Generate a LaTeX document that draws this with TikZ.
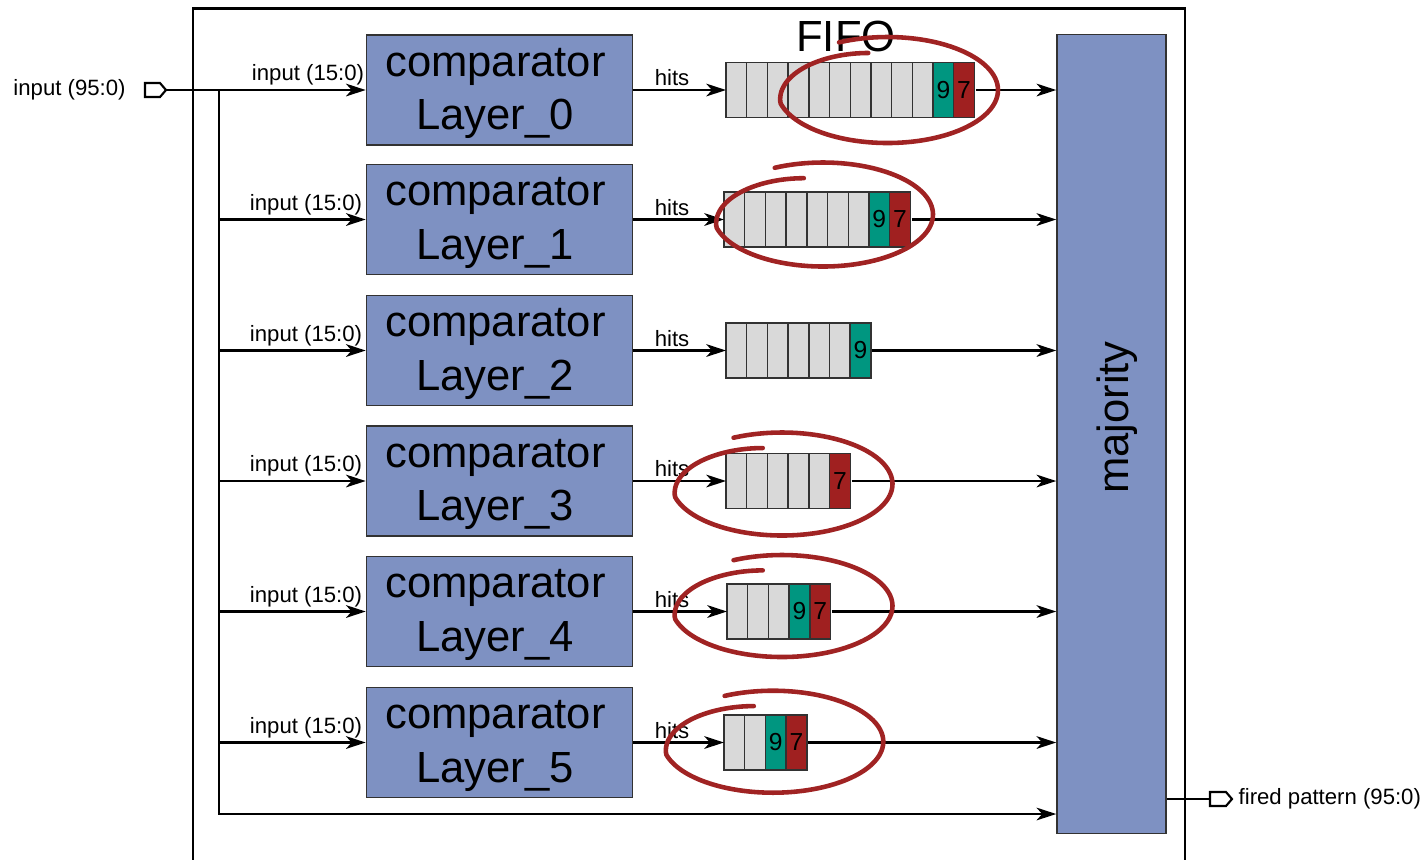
\documentclass[tikz,border=0pt]{standalone}
\usepackage{fontspec}
\setmainfont{Liberation Sans}
\usetikzlibrary{arrows.meta}
\definecolor{cmpblue}{RGB}{126,145,194}
\definecolor{cellgray}{RGB}{217,217,217}
\definecolor{tealnine}{RGB}{0,150,128}
\definecolor{redseven}{RGB}{160,32,32}
\definecolor{ringred}{RGB}{160,35,35}
\definecolor{edgegray}{RGB}{50,50,50}
\newcommand\fifocells[5]{% #1 name, #2 left x, #3 centre y, #4 gray count, #5 coloured cells
  \node[inner sep=0pt, minimum width={(#4+\fifocount)*0.207cm}, minimum height=0.55cm, anchor=west] (#1) at (#2,#3) {};
  \foreach \i in {1,...,#4} \draw[cellst, fill=cellgray] ({#2+(\i-1)*20.7},{#3-27.5}) rectangle ++(20.7,55);
  \foreach [count=\k] \c/\d in {#5} \node[cellst, fill=\c, minimum width=0.207cm, minimum height=0.55cm, inner sep=0pt, font=\digitfont] (#1c\k) at ({#2+(#4+\k-1)*20.7+10.35},#3) {\d};
}
\newcommand\digitfont{\fontsize{7}{8}\selectfont}
\newcommand\fifocount{0}
\newcommand\scribble[4]{%
  \draw[ringred, line width=1.3pt, line cap=round] plot[domain=0:372, samples=140, smooth, variable=\t]
    ({#1+#3*min(1,0.72+\t*0.0031)*cos(256-\t)}, {#2+#4*min(1,0.72+\t*0.0031)*sin(256-\t)});
}
\begin{document}
\begin{tikzpicture}[x=0.01cm, y=-0.01cm,
  cmpbox/.style={draw=edgegray, line width=0.4pt, fill=cmpblue, minimum width=2.66cm, minimum height=1.10cm, inner sep=0pt},
  cellst/.style={draw=edgegray, line width=0.4pt},
  wire/.style={line width=0.7pt},
  arr/.style={wire, -{Stealth[length=5.6pt, width=3.6pt, inset=1.6pt]}},
  small/.style={font=\fontsize{6.3}{7.5}\selectfont, inner sep=0pt},
  big/.style={font=\fontsize{12.4}{15.1}\selectfont, inner sep=0pt}]
\useasboundingbox (0,0) rectangle (1423,859);
% outer block border
\draw[line width=0.85pt] (193,862) -- (193,8) -- (1185,8) -- (1185,862);
% comparators
\foreach \r/\y in {0/90,1/219.5,2/350.5,3/481,4/611.5,5/742.5} {
  \node[cmpbox] (cmp\r) at (499.5,\y) {};
  \node[big, anchor=base] (cmpa\r) at (495.5,\y-14) {comparator};
  \node[big, anchor=base] (cmpb\r) at (495,\y+39.5) {Layer\_\r};
}
% majority
\node[draw=edgegray, line width=0.4pt, fill=cmpblue, minimum width=1.09cm, minimum height=7.98cm, inner sep=0pt] (maj) at (1111.5,434) {};
\node[big, rotate=90, anchor=base] (majtxt) at (1128,417.5) {majority};
% input port and label
\coordinate (inport) at (166,90);
\draw[line width=0.6pt, fill=white] (inport) -- ++(-6,-7) -- ++(-15,0) -- ++(0,14) -- ++(15,0) -- cycle;
\node[small] (inlbl) at (69.5,90) {input (95:0)};
% bus
\coordinate (bus0) at (219,90);
\coordinate (busend) at (219,814);
\draw[arr] (inport) -- (cmp0.west);
\draw[arr] (bus0) -- (busend) -- (busend -| maj.west);
\foreach \r in {1,...,5} \draw[arr] (bus0 |- cmp\r.west) -- (cmp\r.west);
\foreach \r/\x in {0/308,1/306,2/306,3/306,4/306,5/306}
  \node[small] (il\r) at ([yshift=15*0.01cm]cmp\r.west -| \x,0) {input (15:0)};
% FIFOs
\renewcommand\fifocount{2}
\fifocells{fifo0}{726}{90}{10}{tealnine/9,redseven/7}
\fifocells{fifo1}{724}{219.5}{7}{tealnine/9,redseven/7}
\fifocells{fifo4}{727}{611.5}{3}{tealnine/9,redseven/7}
\fifocells{fifo5}{724}{742.5}{2}{tealnine/9,redseven/7}
\renewcommand\fifocount{1}
\fifocells{fifo2}{726}{350.5}{6}{tealnine/9}
\fifocells{fifo3}{726}{481}{5}{redseven/7}
\foreach \r in {0,...,5} {
  \draw[arr] (cmp\r.east) -- (fifo\r.west);
  \draw[arr] (fifo\r.east) -- (fifo\r.east -| maj.west);
  \node[small] (hl\r) at ([yshift=12*0.01cm]cmp\r.east -| 672,0) {hits};
}
\node[big] (fifolbl) at (846,36) {FIFO};
% output
\coordinate (outport) at (1210,799);
\draw[wire] (maj.east |- outport) -- (outport);
\draw[line width=0.6pt, fill=white] (outport) ++(0,-7) -- ++(16,0) -- ++(6,7) -- ++(-6,7) -- ++(-16,0) -- cycle;
\node[small, anchor=west] (outlbl) at (1238,799) {fired pattern (95:0)};
% red rings
\scribble{887.5}{90}{110.5}{53}
\scribble{823}{214.5}{110}{52}
\scribble{782}{484}{110.5}{51.5}
\scribble{782}{606}{110.5}{51}
\scribble{773}{741.7}{110.3}{51}
\end{tikzpicture}
\end{document}
